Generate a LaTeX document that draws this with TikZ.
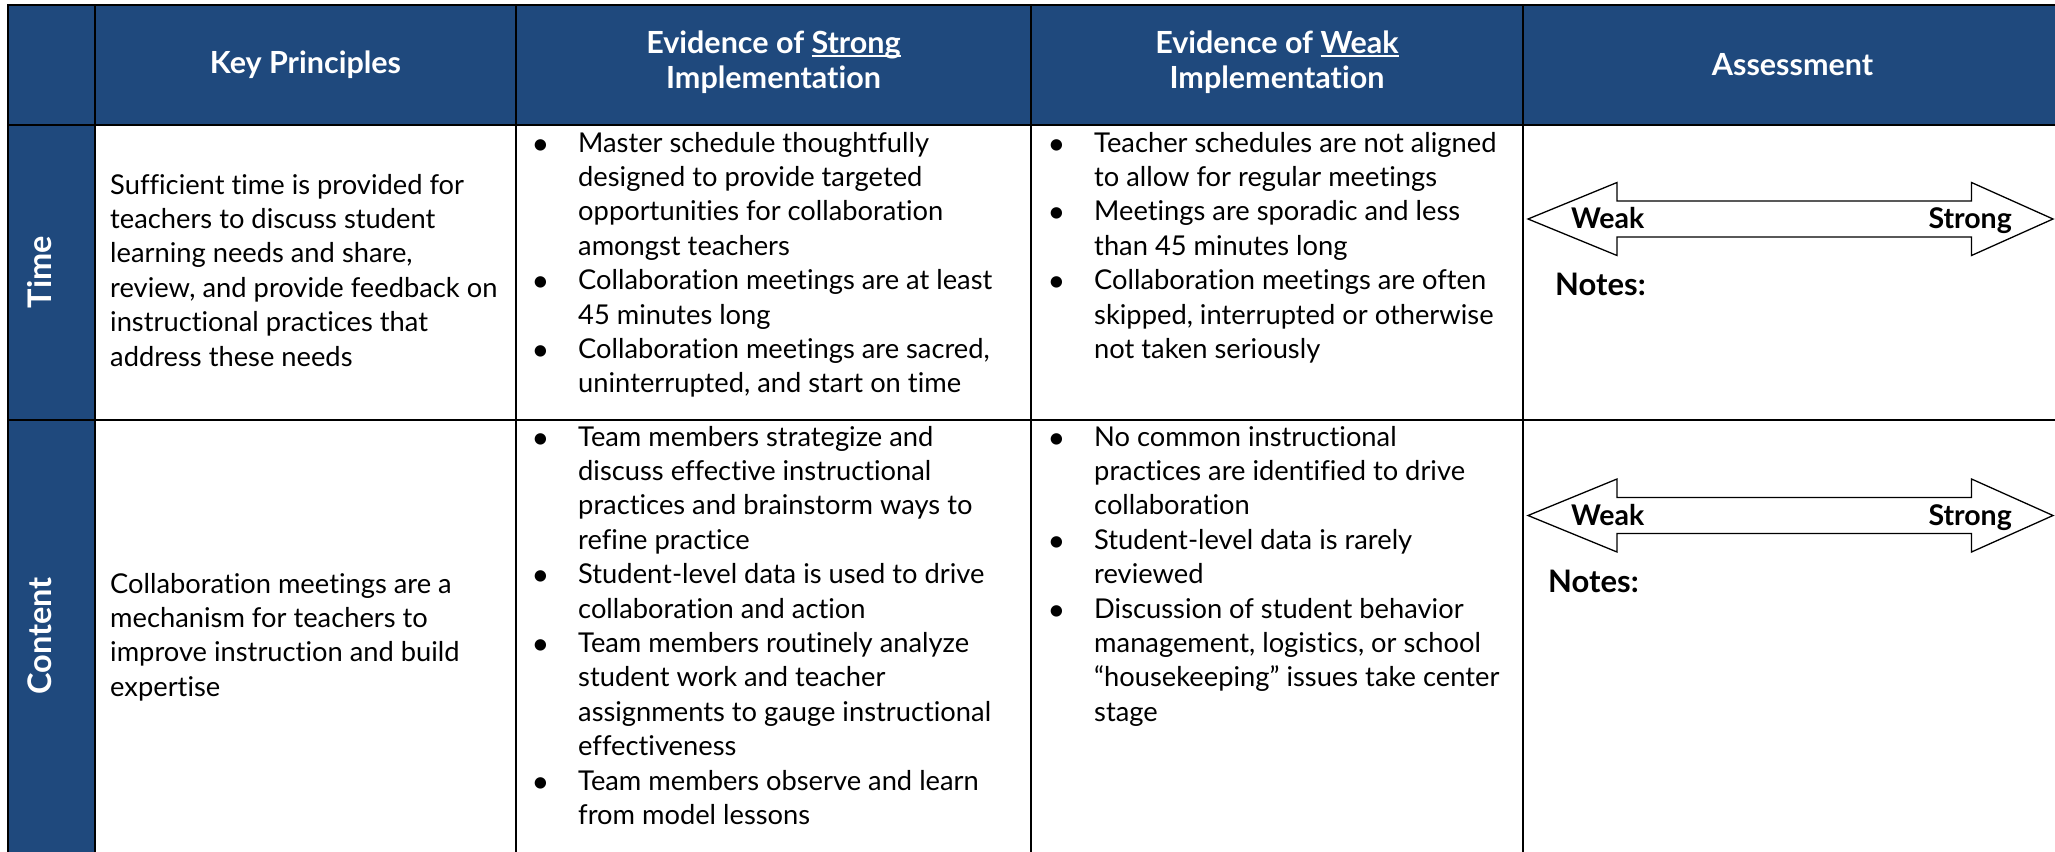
\documentclass[tikz,border=0pt]{standalone}
\usepackage{fontspec}
\setmainfont{Lato}[Ligatures=NoCommon]
\definecolor{hdrblue}{RGB}{31,73,125}
\newcommand\myul[1]{\setbox0\hbox{#1}\rlap{\rule[-3.5pt]{\wd0}{1.8pt}}\box0}
\newcommand\bul{\makebox[48pt][l]{\hspace{1.5pt}\raisebox{-2pt}{\scalebox{1.12}{\textbullet}}}}
\newcommand\ind{\hspace*{48pt}}
\begin{document}
\begin{tikzpicture}[x=1pt,y=-1pt,
  grid/.style={line width=2.6pt,black},
  hdr/.style={text=white,font=\fontsize{30.5}{35}\bfseries\selectfont,inner sep=0,align=center},
  side/.style={text=white,font=\fontsize{32.5}{35}\bfseries\selectfont,inner sep=0,rotate=90},
  body/.style={anchor=base west,inner sep=0,font=\fontsize{27.3}{34.4}\selectfont},
  bigarrow/.style={draw=black,line width=1.3pt,fill=white,line join=miter},
  scalelbl/.style={inner sep=0,font=\fontsize{28.5}{30}\bfseries\selectfont},
  notes/.style={anchor=base west,inner sep=0,font=\fontsize{31}{32}\bfseries\selectfont}]
\useasboundingbox (0,0) rectangle (2055,851);
\clip (0,0) rectangle (2055,851);
% fills
\fill[hdrblue] (8,5) rectangle (2062,125);
\fill[hdrblue] (8,125) rectangle (95,853);
% grid
\draw[grid] (8,5) rectangle (2062,853);
\draw[grid] (8,125) -- (2062,125);
\draw[grid] (8,420) -- (2062,420);
\draw[grid] (95,5) -- (95,853);
\draw[grid] (516,5) -- (516,853);
\draw[grid] (1031,5) -- (1031,853);
\draw[grid] (1523,5) -- (1523,853);
% headers
\node[hdr] (hkey) at (305.5,65) {Key Principles};
\node[hdr] (hstrong) at (773.5,62) {Evidence of \myul{Strong}\\Implementation};
\node[hdr] (hweak) at (1277,62) {Evidence of \myul{Weak}\\Implementation};
\node[hdr] (hassess) at (1792.5,65) {Assessment};
% side labels
\node[side] (ltime) at (40,272) {Time};
\node[side] (lcontent) at (40,636) {Content};
% key principles
\node[body] (p1) at (110,194) {\begin{tabular}[t]{@{}l@{}}
Sufficient time is provided for\\
teachers to discuss student\\
learning needs and share,\\
review, and provide feedback on\\
instructional practices that\\
address these needs\end{tabular}};
\node[body] (p2) at (110,593) {\begin{tabular}[t]{@{}l@{}}
Collaboration meetings are a\\
mechanism for teachers to\\
improve instruction and build\\
expertise\end{tabular}};
% strong
\node[body] (s1) at (530,152) {\begin{tabular}[t]{@{}l@{}}
\bul Master schedule thoughtfully\\
\ind designed to provide targeted\\
\ind opportunities for collaboration\\
\ind amongst teachers\\
\bul Collaboration meetings are at least\\
\ind 45 minutes long\\
\bul Collaboration meetings are sacred,\\
\ind uninterrupted, and start on time\end{tabular}};
\node[body] (s2) at (530,446) {\begin{tabular}[t]{@{}l@{}}
\bul Team members strategize and\\
\ind discuss effective instructional\\
\ind practices and brainstorm ways to\\
\ind refine practice\\
\bul Student-level data is used to drive\\
\ind collaboration and action\\
\bul Team members routinely analyze\\
\ind student work and teacher\\
\ind assignments to gauge instructional\\
\ind effectiveness\\
\bul Team members observe and learn\\
\ind from model lessons\end{tabular}};
% weak
\node[body] (w1) at (1046,152) {\begin{tabular}[t]{@{}l@{}}
\bul Teacher schedules are not aligned\\
\ind to allow for regular meetings\\
\bul Meetings are sporadic and less\\
\ind than 45 minutes long\\
\bul Collaboration meetings are often\\
\ind skipped, interrupted or otherwise\\
\ind not taken seriously\end{tabular}};
\node[body] (w2) at (1046,446) {\begin{tabular}[t]{@{}l@{}}
\bul No common instructional\\
\ind practices are identified to drive\\
\ind collaboration\\
\bul Student-level data is rarely\\
\ind reviewed\\
\bul Discussion of student behavior\\
\ind management, logistics, or school\\
\ind “housekeeping” issues take center\\
\ind stage\end{tabular}};
% assessment row 1
\draw[bigarrow] (1528,219) -- (1617,182.5) -- (1617,201) -- (1971.5,201) -- (1971.5,182.5)
  -- (2053,219) -- (1971.5,255.5) -- (1971.5,237) -- (1617,237) -- (1617,255.5) -- cycle;
\node[scalelbl,anchor=base west] (weak1) at (1571,228) {Weak};
\node[scalelbl,anchor=base east] (strong1) at (2012,228) {Strong};
\node[notes] (notes1) at (1555,295) {Notes:};
% assessment row 2
\draw[bigarrow] (1528,515.5) -- (1617,479) -- (1617,497.5) -- (1971.5,497.5) -- (1971.5,479)
  -- (2053,515.5) -- (1971.5,552) -- (1971.5,533.5) -- (1617,533.5) -- (1617,552) -- cycle;
\node[scalelbl,anchor=base west] (weak2) at (1571,525) {Weak};
\node[scalelbl,anchor=base east] (strong2) at (2012,525) {Strong};
\node[notes] (notes2) at (1548,592) {Notes:};
\end{tikzpicture}
\end{document}
